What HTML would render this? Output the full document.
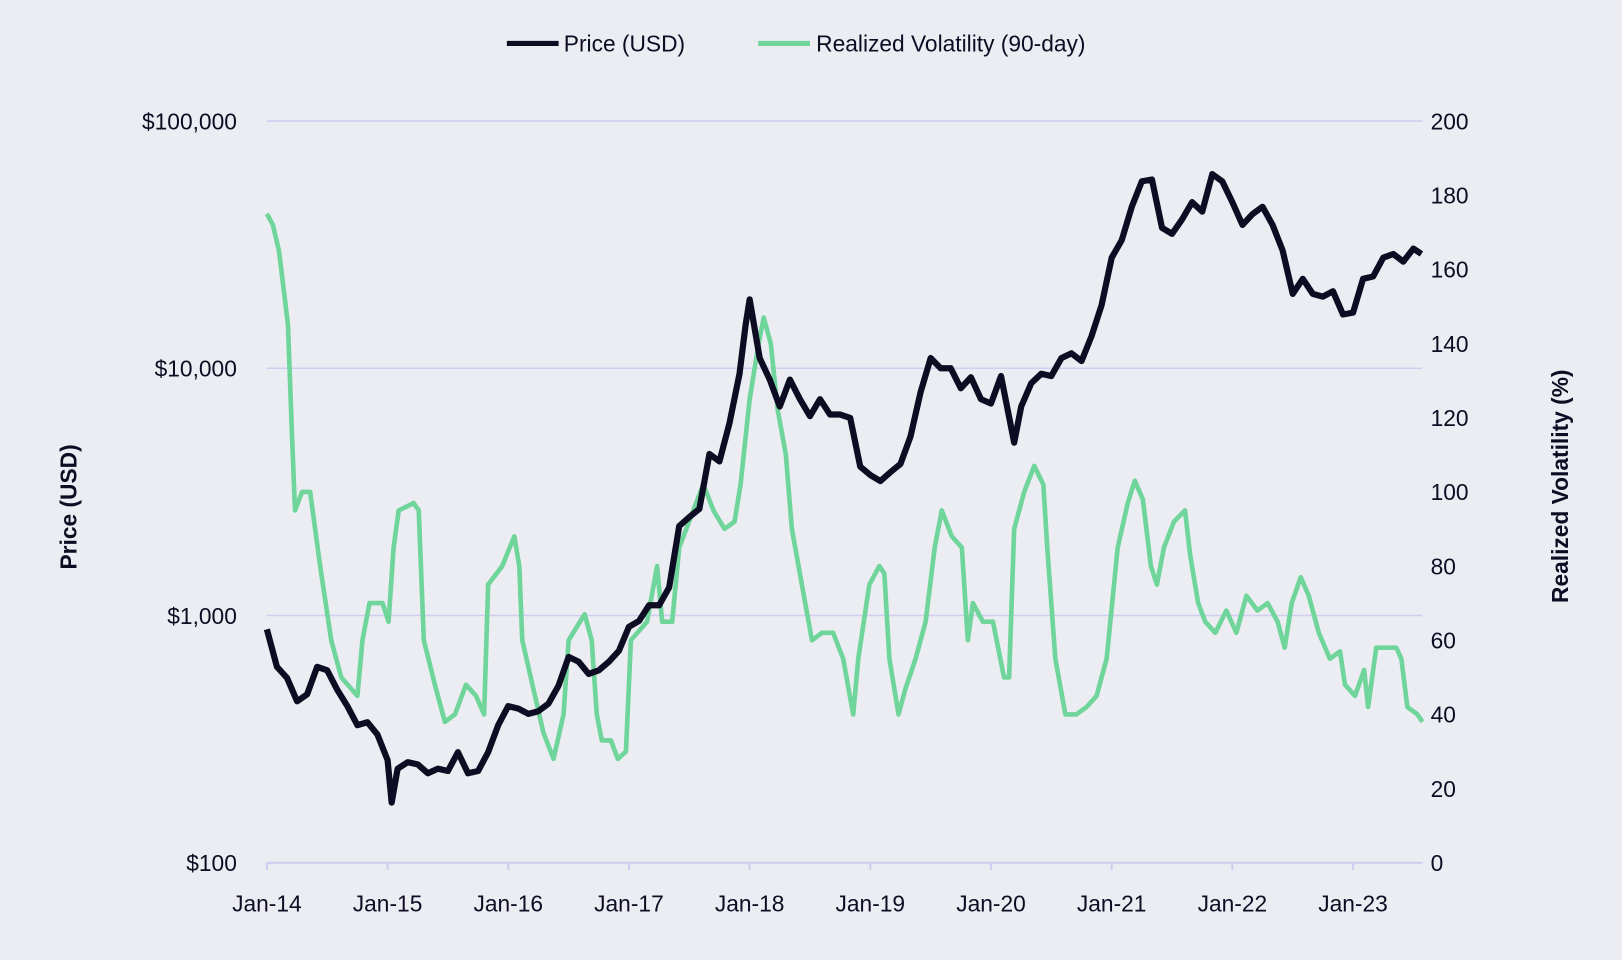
<!DOCTYPE html>
<html><head><meta charset="utf-8"><style>
html,body{margin:0;padding:0;background:#ECEDF3;}
svg{display:block;font-family:"Liberation Sans",sans-serif;}
</style></head><body>
<svg id="chart" width="1622" height="960" viewBox="0 0 1568 928" xmlns="http://www.w3.org/2000/svg">
<rect width="1568" height="928" fill="#ECEDF3"/>
<g>
 <g>
  <line x1="490" y1="42" x2="540" y2="42" stroke="#0E0C23" stroke-width="5"/>
  <text x="545" y="50" font-size="22" fill="#0E0C23">Price (USD)</text>
 </g>
 <g>
  <line x1="733" y1="42" x2="783" y2="42" stroke="#6FD59A" stroke-width="5"/>
  <text x="789" y="50" font-size="22" fill="#0E0C23">Realized Volatility (90-day)</text>
 </g>
</g>
<g id="grid"></g>
<g id="leftAxis"></g>
<g id="rightAxis"></g>
<g id="xAxis"></g>
<text x="68" y="490" font-size="22" font-weight="bold" fill="#0E0C23" text-anchor="middle" dominant-baseline="middle" transform="rotate(-90 68 490)">Price (USD)</text>
<text x="1510" y="470" font-size="22" font-weight="bold" fill="#0E0C23" text-anchor="middle" dominant-baseline="middle" transform="rotate(-90 1510 470)">Realized Volatility (%)</text>
<g id="series"></g>
</svg>
<script>
// months since Jan 2014
const volMonths=[0,0.6,1.2,2.1,2.5,2.8,3.5,4.3,5.3,6.4,7.4,9.0,9.5,10.2,11.5,12.1,12.6,13.1,14.6,15.1,15.6,16.7,17.7,18.7,19.8,20.8,21.6,22.0,23.4,24.6,25.1,25.4,26.4,27.5,28.5,29.5,30.0,31.6,32.3,32.8,33.3,34.2,34.9,35.7,36.2,37.8,38.8,39.3,40.3,41.0,42.4,43.4,44.4,45.5,46.5,47.1,48.0,48.9,49.4,50.1,50.8,51.6,52.2,53.2,54.2,55.2,56.3,57.3,58.3,58.8,59.9,60.9,61.4,61.9,62.8,63.5,64.5,65.5,66.4,67.1,68.1,69.1,69.7,70.2,71.2,72.2,73.3,73.8,74.3,75.3,76.3,77.2,77.6,78.4,79.4,80.5,81.5,82.5,83.5,84.6,85.6,86.3,87.1,87.9,88.5,89.2,90.2,91.3,91.8,92.6,93.3,94.3,95.4,96.4,97.4,98.5,99.5,100.5,101.2,101.9,102.8,103.6,104.6,105.7,106.7,107.2,108.2,109.1,109.5,110.3,111.3,112.3,112.8,113.4,114.4,114.9];
const volValues=[175,172,165,145,115,95,100,100,80,60,50,45,60,70,70,65,85,95,97,95,60,48,38,40,48,45,40,75,80,88,80,60,48,35,28,40,60,67,60,40,33,33,28,30,60,65,80,65,65,85,95,102,95,90,92,102,125,140,147,140,122,110,90,75,60,62,62,55,40,55,75,80,78,55,40,47,55,65,85,95,88,85,60,70,65,65,50,50,90,100,107,102,85,55,40,40,42,45,55,85,97,103,98,80,75,85,92,95,83,70,65,62,68,62,72,68,70,65,58,70,77,72,62,55,57,48,45,52,42,58,58,58,55,42,40,38];
const priceMonths=[0,1,2,3,4,5,6,7,8,9,10,11,12,12.4,13,14,15,16,17,18,19,20,21,22,23,24,25,26,27,28,29,30,31,32,33,34,35,36,37,38,39,40,41,42,43,44,45,46,47,47.6,48,49,50,51,52,53,54,55,56,57,58,59,60,61,62,63,64,65,66,67,68,69,70,71,72,73,74.3,75,76,77,78,79,80,81,82,83,84,85,86,87,88,89,90,91,92,93,94,95,96,97,98,99,100,101,102,103,104,105,106,107,108,109,110,111,112,113,114,114.8];
const priceValues=[880,620,560,450,480,620,600,500,430,360,370,330,260,175,240,255,250,230,240,235,280,230,235,280,360,430,420,400,410,440,520,680,650,580,600,650,720,900,950,1100,1100,1300,2300,2500,2700,4500,4200,6000,9500,15000,19000,11000,9000,7000,9000,7500,6400,7500,6500,6500,6300,4000,3700,3500,3800,4100,5300,8000,11000,10000,10000,8300,9200,7500,7200,9300,5000,7000,8700,9500,9300,11000,11500,10700,13500,18000,28000,33000,45000,57000,58000,37000,35000,40000,47000,43000,61000,57000,47000,38000,42000,45000,38000,30000,20000,23000,20000,19500,20500,16500,16800,23000,23500,28000,29000,27000,30500,29000];
const xTickLabels=["Jan-14","Jan-15","Jan-16","Jan-17","Jan-18","Jan-19","Jan-20","Jan-21","Jan-22","Jan-23"];
const leftTickValues=[100,1000,10000,100000];
const leftTickLabels=["$100","$1,000","$10,000","$100,000"];
const rightTickValues=[0,20,40,60,80,100,120,140,160,180,200];

const NS="http://www.w3.org/2000/svg";
const X0=258,PX_PER_MONTH=(1308-258)/108,XR=1375,Y0=834,YT=117;
function xs(m){return X0+m*PX_PER_MONTH;}
function yPrice(p){return Y0-(Math.log10(p)-2)/3*(Y0-YT);}
function yVol(v){return Y0-v/200*(Y0-YT);}
function mk(tag,attrs,parent){const e=document.createElementNS(NS,tag);for(const k in attrs)e.setAttribute(k,attrs[k]);parent.appendChild(e);return e;}

const grid=document.getElementById('grid');
leftTickValues.forEach((v,i)=>{
  if(v===100)return;
  const l=mk('line',{x1:X0,x2:XR,y1:yPrice(v),y2:yPrice(v),stroke:'#CFCDF0','stroke-width':1.5},grid);
  
  
});
const la=document.getElementById('leftAxis');
leftTickValues.forEach((v,i)=>{
  const t=mk('text',{x:229,y:yPrice(v)+8,'font-size':22,'text-anchor':'end',fill:'#0E0C23'},la);
  t.textContent=leftTickLabels[i];
  
  
});
const ra=document.getElementById('rightAxis');
rightTickValues.forEach(v=>{
  const t=mk('text',{x:1383,y:yVol(v)+8,'font-size':22,fill:'#0E0C23'},ra);
  t.textContent=String(v);
  
  
});
const xa=document.getElementById('xAxis');
const base=mk('line',{x1:X0,x2:XR,y1:Y0,y2:Y0,stroke:'#CFCDF0','stroke-width':2},xa);


xTickLabels.forEach((lab,i)=>{
  const x=xs(i*12);
  const tk=mk('line',{x1:x,x2:x,y1:Y0,y2:Y0+7,stroke:'#CFCDF0','stroke-width':2},xa);
  
  
  const t=mk('text',{x:x,y:881,'font-size':22,'text-anchor':'middle',fill:'#0E0C23'},xa);
  t.textContent=lab;
  
  
});
const s=document.getElementById('series');
const vd=volMonths.map((m,i)=>(i?'L':'M')+xs(m).toFixed(1)+','+yVol(volValues[i]).toFixed(1)).join('');
const vp=mk('path',{d:vd,fill:'none',stroke:'#6FD59A','stroke-width':4.5,'stroke-linejoin':'round'},s);


const pd=priceMonths.map((m,i)=>(i?'L':'M')+xs(m).toFixed(1)+','+yPrice(priceValues[i]).toFixed(1)).join('');
const pp=mk('path',{d:pd,fill:'none',stroke:'#0E0C23','stroke-width':6,'stroke-linejoin':'round'},s);


</script>
</body></html>
